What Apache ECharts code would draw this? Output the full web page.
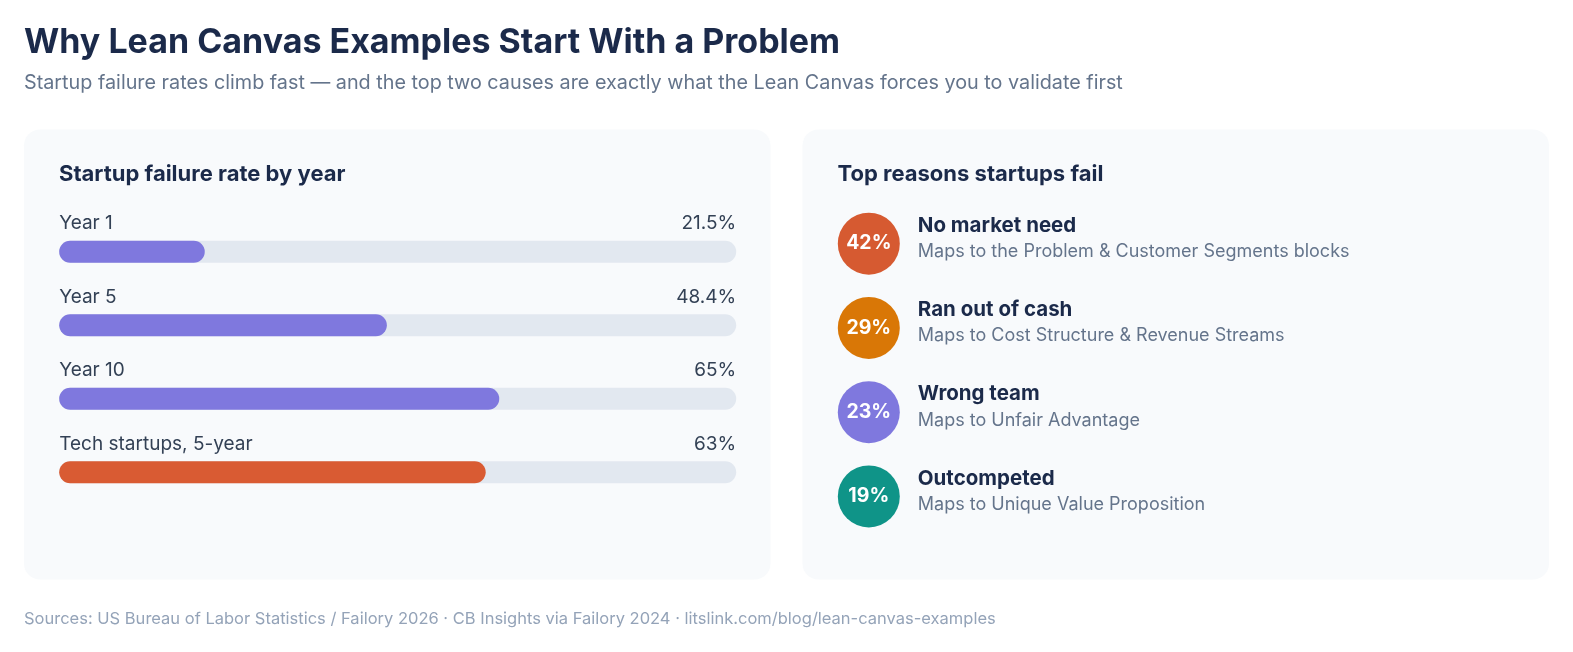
<!DOCTYPE html>
<html>
<head>
<meta charset="utf-8">
<title>Why Lean Canvas Examples Start With a Problem</title>
<script src="https://cdn.jsdelivr.net/npm/echarts@6/dist/echarts.min.js"></script>
<style>
  html, body { margin: 0; padding: 0; background: #ffffff; }
  #chart { width: 1573px; height: 652px; }
</style>
</head>
<body>
<div id="chart"></div>
<script>
// failure rate by year
const periods = ['Year 1', 'Year 5', 'Year 10', 'Tech startups, 5-year']
const failRates = [21.5, 48.4, 65, 63]
const barColors = ['#7f78de', '#7f78de', '#7f78de', '#d95b33']

// top reasons
const reasons = ['No market need', 'Ran out of cash', 'Wrong team', 'Outcompeted']
const reasonPct = [42, 29, 23, 19]
const reasonNotes = [
  'Maps to the Problem & Customer Segments blocks',
  'Maps to Cost Structure & Revenue Streams',
  'Maps to Unfair Advantage',
  'Maps to Unique Value Proposition'
]
const reasonColors = ['#d65a31', '#d97706', '#7f78de', '#0f9488']

const FONT = 'Inter, "Noto Sans", sans-serif'
const chart = echarts.init(document.getElementById('chart'))

chart.setOption({
  backgroundColor: '#ffffff',
  textStyle: { fontFamily: FONT },
  graphic: [
    { type: 'text', x: 24, y: 42.5, style: { text: 'Why Lean Canvas Examples Start With a Problem', font: '700 34px ' + FONT, fill: '#1b2a4a', verticalAlign: 'middle' } },
    { type: 'text', x: 24, y: 83, style: { text: 'Startup failure rates climb fast \u2014 and the top two causes are exactly what the Lean Canvas forces you to validate first', font: '19.8px ' + FONT, fill: '#64748b', verticalAlign: 'middle' } },
    { type: 'rect', z: -10, shape: { x: 24, y: 129.5, width: 746.5, height: 450, r: 16 }, style: { fill: '#f8fafc' } },
    { type: 'rect', z: -10, shape: { x: 802.5, y: 129.5, width: 746.5, height: 450, r: 16 }, style: { fill: '#f8fafc' } },
    { type: 'text', x: 59, y: 174.5, style: { text: 'Startup failure rate by year', font: '700 22px ' + FONT, fill: '#1b2a4a', verticalAlign: 'middle' } },
    { type: 'text', x: 837.5, y: 174.5, style: { text: 'Top reasons startups fail', font: '700 22px ' + FONT, fill: '#1b2a4a', verticalAlign: 'middle' } },
    { type: 'text', x: 24, y: 619, style: { text: 'Sources: US Bureau of Labor Statistics / Failory 2026 \u00b7 CB Insights via Failory 2024 \u00b7 litslink.com/blog/lean-canvas-examples', font: '16.5px ' + FONT, fill: '#94a3b8', verticalAlign: 'middle' } }
  ],
  grid: [
    { left: 59.2, width: 677, top: 215, height: 294 },
    { left: 837.8, width: 62, top: 201.5, height: 337 }
  ],
  xAxis: [
    { gridIndex: 0, type: 'value', min: 0, max: 100, show: false },
    { gridIndex: 1, type: 'value', min: -1, max: 1, show: false }
  ],
  yAxis: [
    { gridIndex: 0, type: 'category', data: periods, inverse: true, show: false },
    { gridIndex: 1, type: 'category', data: reasons, inverse: true, show: false }
  ],
  series: [
    {
      name: 'track',
      type: 'bar',
      xAxisIndex: 0,
      yAxisIndex: 0,
      silent: true,
      barWidth: 22,
      itemStyle: { color: '#e2e8f0', borderRadius: 11 },
      label: {
        show: true,
        position: ['100%', -17],
        align: 'right',
        verticalAlign: 'middle',
        fontSize: 19,
        color: '#334155',
        formatter: p => failRates[p.dataIndex] + '%'
      },
      data: failRates.map(() => 100)
    },
    {
      name: 'Failure rate',
      type: 'bar',
      xAxisIndex: 0,
      yAxisIndex: 0,
      barWidth: 22,
      barGap: '-100%',
      itemStyle: { borderRadius: 11 },
      label: {
        show: true,
        position: [0, -17],
        align: 'left',
        verticalAlign: 'middle',
        fontSize: 19,
        color: '#334155',
        formatter: p => p.name
      },
      data: failRates.map((v, i) => ({ value: v, itemStyle: { color: barColors[i] } }))
    },
    {
      name: 'Reasons',
      type: 'scatter',
      xAxisIndex: 1,
      yAxisIndex: 1,
      symbolSize: 62,
      label: {
        show: true,
        position: 'inside',
        fontSize: 19.5,
        fontWeight: 700,
        color: '#ffffff',
        formatter: p => reasonPct[p.dataIndex] + '%'
      },
      data: reasons.map((r, i) => ({ value: [0, i], itemStyle: { color: reasonColors[i], opacity: 1 } }))
    },
    {
      name: 'Reason text',
      type: 'scatter',
      xAxisIndex: 1,
      yAxisIndex: 1,
      symbolSize: 62,
      silent: true,
      itemStyle: { color: 'rgba(0,0,0,0)', opacity: 1 },
      label: {
        show: true,
        position: 'right',
        distance: 18,
        offset: [0, -5],
        formatter: p => '{n|' + reasons[p.dataIndex] + '}\n{d|' + reasonNotes[p.dataIndex] + '}',
        rich: {
          n: { fontFamily: FONT, fontSize: 20.5, fontWeight: 700, color: '#1b2a4a', lineHeight: 26 },
          d: { fontFamily: FONT, fontSize: 18, color: '#64748b', lineHeight: 26 }
        }
      },
      data: reasons.map((r, i) => [0, i])
    }
  ]
})
</script>
</body>
</html>
